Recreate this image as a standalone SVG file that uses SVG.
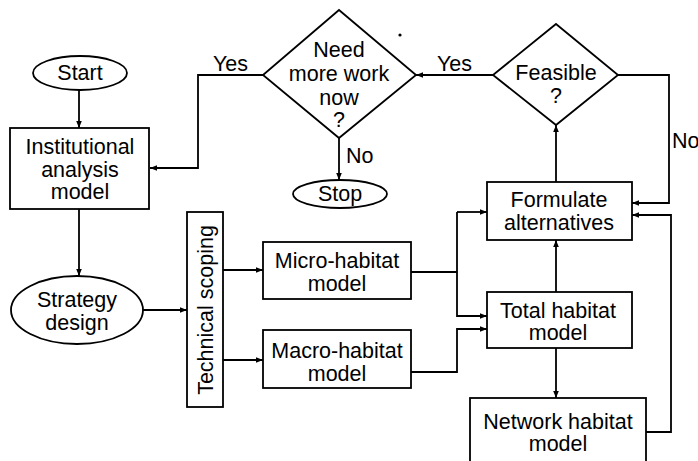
<svg xmlns="http://www.w3.org/2000/svg" width="698" height="461" viewBox="0 0 698 461">
<defs>
<marker id="ah" viewBox="0 0 10 10" refX="10" refY="5" markerWidth="7" markerHeight="7" orient="auto" markerUnits="userSpaceOnUse">
<path d="M0,1 L10,5 L0,9 z" fill="#000"/>
</marker>
</defs>
<style>
.s{fill:#fff;stroke:#000;stroke-width:1.8}
.t{font-family:"Liberation Sans",Arial,Helvetica,sans-serif;font-size:21.5px;fill:#000;text-anchor:middle}
.l{font-family:"Liberation Sans",Arial,Helvetica,sans-serif;font-size:21.5px;fill:#000}
.c{fill:none;stroke:#000;stroke-width:1.8;marker-end:url(#ah)}
.n{fill:none;stroke:#000;stroke-width:1.8}
</style>
<rect width="698" height="461" fill="#fff"/>
<g id="connectors">
<path class="c" d="M79,90 L79,128"/>
<path class="c" d="M264,75 L198,75 L198,168 L150,168"/>
<path class="c" d="M339,138 L339,180"/>
<path class="c" d="M493,75 L416,75"/>
<path class="c" d="M618,75 L669,75 L669,203 L632,203"/>
<path class="c" d="M556,182 L556,125"/>
<path class="c" d="M645,432 L671,432 L671,215 L632,215"/>
<path class="c" d="M556,292 L556,240"/>
<path class="c" d="M556,348 L556,398"/>
<path class="c" d="M79,209 L79,276"/>
<path class="c" d="M143,310 L187,310"/>
<path class="c" d="M223,270 L263,270"/>
<path class="c" d="M223,360 L263,360"/>
<path class="n" d="M411,272 L457,272"/>
<path class="c" d="M457,212 L457,316 L487,316"/>
<path class="c" d="M457,212 L487,212"/>
<path class="c" d="M411,372 L457,372 L457,329 L487,329"/>
<text class="l" x="213" y="71">Yes</text>
<text class="l" x="437" y="71">Yes</text>
<text class="l" x="346" y="163">No</text>
<text class="l" x="672" y="148">No</text>
</g>
<g id="start">
<ellipse class="s" cx="80" cy="73" rx="47" ry="17"/>
<text class="t" x="80" y="80">Start</text>
</g>
<g id="institutional">
<rect class="s" x="10" y="128" width="139" height="81"/>
<text class="t" x="80" y="154">Institutional</text>
<text class="t" x="80" y="177">analysis</text>
<text class="t" x="80" y="199">model</text>
</g>
<g id="need-more-work">
<polygon class="s" points="339,10 416,75 339,138 263,75"/>
<text class="t" x="339" y="57">Need</text>
<text class="t" x="339" y="81">more work</text>
<text class="t" x="339" y="105">now</text>
<text class="t" x="339" y="127">?</text>
</g>
<circle cx="400" cy="35" r="1.6" fill="#000"/>
<g id="stop">
<ellipse class="s" cx="340" cy="194" rx="47" ry="14"/>
<text class="t" x="340" y="201">Stop</text>
</g>
<g id="feasible">
<polygon class="s" points="556,24 618,75 556,125 493,75"/>
<text class="t" x="556" y="80">Feasible</text>
<text class="t" x="556" y="103">?</text>
</g>
<g id="formulate">
<rect class="s" x="487" y="182" width="145" height="58"/>
<text class="t" x="559" y="207">Formulate</text>
<text class="t" x="559" y="230">alternatives</text>
</g>
<g id="strategy">
<ellipse class="s" cx="77" cy="310" rx="66" ry="34"/>
<text class="t" x="77" y="307">Strategy</text>
<text class="t" x="77" y="330">design</text>
</g>
<g id="technical-scoping">
<rect class="s" x="187" y="212" width="36" height="195"/>
<text class="t" transform="translate(213,310) rotate(-90)" x="0" y="0">Technical scoping</text>
</g>
<g id="micro">
<rect class="s" x="263" y="242" width="148" height="57"/>
<text class="t" x="337" y="268">Micro-habitat</text>
<text class="t" x="337" y="291">model</text>
</g>
<g id="macro">
<rect class="s" x="263" y="330" width="148" height="58"/>
<text class="t" x="337" y="358">Macro-habitat</text>
<text class="t" x="337" y="381">model</text>
</g>
<g id="total">
<rect class="s" x="487" y="292" width="145" height="56"/>
<text class="t" x="558" y="318">Total habitat</text>
<text class="t" x="558" y="340">model</text>
</g>
<g id="network">
<rect class="s" x="470" y="398" width="176" height="70"/>
<text class="t" x="558" y="429">Network habitat</text>
<text class="t" x="558" y="451">model</text>
</g>
</svg>
